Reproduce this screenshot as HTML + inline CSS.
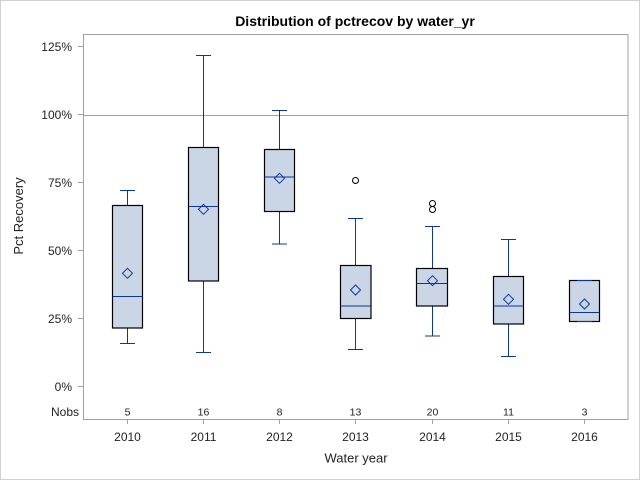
<!DOCTYPE html>
<html><head><meta charset="utf-8"><style>
html,body{margin:0;padding:0;background:#fff;}
svg{display:block;}
text{font-family:"Liberation Sans",Arial,sans-serif;fill:#222;}
</style></head><body>
<svg width="640" height="480" viewBox="0 0 640 480" xmlns="http://www.w3.org/2000/svg">
<rect x="0.5" y="0.5" width="639" height="479" fill="#fff" stroke="#d0d0d0" stroke-width="1"/>
<text x="355" y="26" font-size="14" font-weight="bold" text-anchor="middle" style="fill:#000">Distribution of pctrecov by water_yr</text>

<!-- reference line 100% -->
<line x1="83" y1="115.5" x2="628" y2="115.5" stroke="#a0a0a0" stroke-width="1"/>

<!-- plot frame -->
<rect x="83.5" y="34.5" width="544.5" height="385" fill="none" stroke="#a0a0a0" stroke-width="1"/>

<!-- y ticks -->
<g stroke="#a0a0a0" stroke-width="1">
<line x1="78" y1="46.5" x2="83" y2="46.5"/>
<line x1="78" y1="114.5" x2="83" y2="114.5"/>
<line x1="78" y1="182.5" x2="83" y2="182.5"/>
<line x1="78" y1="250.5" x2="83" y2="250.5"/>
<line x1="78" y1="318.5" x2="83" y2="318.5"/>
<line x1="78" y1="386.5" x2="83" y2="386.5"/>
</g>
<g font-size="12" text-anchor="end">
<text x="72" y="51">125%</text>
<text x="72" y="119">100%</text>
<text x="72" y="187">75%</text>
<text x="72" y="255">50%</text>
<text x="72" y="323">25%</text>
<text x="72" y="391">0%</text>
<text x="79" y="416">Nobs</text>
</g>
<text transform="translate(23,216) rotate(-90)" font-size="13" text-anchor="middle">Pct Recovery</text>

<!-- x ticks -->
<g stroke="#a0a0a0" stroke-width="1">
<line x1="127.5" y1="419" x2="127.5" y2="424"/>
<line x1="203.5" y1="419" x2="203.5" y2="424"/>
<line x1="279.5" y1="419" x2="279.5" y2="424"/>
<line x1="355.5" y1="419" x2="355.5" y2="424"/>
<line x1="432.5" y1="419" x2="432.5" y2="424"/>
<line x1="508.5" y1="419" x2="508.5" y2="424"/>
<line x1="584.5" y1="419" x2="584.5" y2="424"/>
</g>
<g font-size="12" text-anchor="middle">
<text x="127.5" y="441">2010</text>
<text x="203.5" y="441">2011</text>
<text x="279.5" y="441">2012</text>
<text x="355.5" y="441">2013</text>
<text x="432.5" y="441">2014</text>
<text x="508.5" y="441">2015</text>
<text x="584.5" y="441">2016</text>
</g>
<g font-size="10.5" text-anchor="middle">
<text x="127.5" y="415.5">5</text>
<text x="203.5" y="415.5">16</text>
<text x="279.5" y="415.5">8</text>
<text x="355.5" y="415.5">13</text>
<text x="432.5" y="415.5">20</text>
<text x="508.5" y="415.5">11</text>
<text x="584.5" y="415.5">3</text>
</g>
<text x="356" y="462.5" font-size="13" text-anchor="middle">Water year</text>

<!-- boxes -->
<g stroke-width="1" fill="none">
<!-- 2010 -->
<line x1="127.5" y1="190.5" x2="127.5" y2="205.5" stroke="#0a3799"/>
<line x1="127.5" y1="328" x2="127.5" y2="343.5" stroke="#0a3799"/>
<line x1="120" y1="190.5" x2="135" y2="190.5" stroke="#0a3799"/>
<line x1="120" y1="343.5" x2="135" y2="343.5" stroke="#0a3799"/>
<rect x="112.5" y="205.5" width="30" height="122.5" fill="#cad5e5" stroke="#000" stroke-width="1.2"/>
<line x1="113" y1="296.5" x2="142" y2="296.5" stroke="#0a3799"/>
<path d="M127.5 268.3 L132.5 273.3 L127.5 278.3 L122.5 273.3 Z" stroke="#0a3799"/>

<!-- 2011 -->
<line x1="203.5" y1="55.5" x2="203.5" y2="147.5" stroke="#0a3799"/>
<line x1="203.5" y1="281" x2="203.5" y2="352.5" stroke="#0a3799"/>
<line x1="196" y1="55.5" x2="211" y2="55.5" stroke="#0a3799"/>
<line x1="196" y1="352.5" x2="211" y2="352.5" stroke="#0a3799"/>
<rect x="188.5" y="147.5" width="30" height="133.5" fill="#cad5e5" stroke="#000" stroke-width="1.2"/>
<line x1="189" y1="206.5" x2="218" y2="206.5" stroke="#0a3799"/>
<path d="M203.5 204.3 L208.5 209.3 L203.5 214.3 L198.5 209.3 Z" stroke="#0a3799"/>

<!-- 2012 -->
<line x1="279.5" y1="110.5" x2="279.5" y2="149.5" stroke="#0a3799"/>
<line x1="279.5" y1="211.5" x2="279.5" y2="244" stroke="#0a3799"/>
<line x1="272" y1="110.5" x2="287" y2="110.5" stroke="#0a3799"/>
<line x1="272" y1="244" x2="287" y2="244" stroke="#0a3799"/>
<rect x="264.5" y="149.5" width="30" height="62" fill="#cad5e5" stroke="#000" stroke-width="1.2"/>
<line x1="265" y1="177" x2="294" y2="177" stroke="#0a3799"/>
<path d="M279.5 173.3 L284.5 178.3 L279.5 183.3 L274.5 178.3 Z" stroke="#0a3799"/>

<!-- 2013 -->
<line x1="355.5" y1="218.5" x2="355.5" y2="265.5" stroke="#0a3799"/>
<line x1="355.5" y1="318.5" x2="355.5" y2="349.5" stroke="#0a3799"/>
<line x1="348" y1="218.5" x2="363" y2="218.5" stroke="#0a3799"/>
<line x1="348" y1="349.5" x2="363" y2="349.5" stroke="#0a3799"/>
<rect x="340.5" y="265.5" width="30.5" height="53" fill="#cad5e5" stroke="#000" stroke-width="1.2"/>
<line x1="341" y1="306" x2="370.5" y2="306" stroke="#0a3799"/>
<path d="M355.5 285 L360.5 290 L355.5 295 L350.5 290 Z" stroke="#0a3799"/>
<circle cx="355.5" cy="180.5" r="3" stroke="#000"/>

<!-- 2014 -->
<line x1="432.5" y1="226.5" x2="432.5" y2="268.5" stroke="#0a3799"/>
<line x1="432.5" y1="306" x2="432.5" y2="336" stroke="#0a3799"/>
<line x1="425" y1="226.5" x2="440" y2="226.5" stroke="#0a3799"/>
<line x1="425" y1="336" x2="440" y2="336" stroke="#0a3799"/>
<rect x="416.5" y="268.5" width="31" height="37.5" fill="#cad5e5" stroke="#000" stroke-width="1.2"/>
<line x1="417" y1="283.5" x2="447" y2="283.5" stroke="#0a3799"/>
<path d="M432.5 275.7 L437.5 280.7 L432.5 285.7 L427.5 280.7 Z" stroke="#0a3799"/>
<circle cx="432.5" cy="203.5" r="3" stroke="#000"/>
<circle cx="432.5" cy="209.5" r="3" stroke="#000"/>

<!-- 2015 -->
<line x1="508.5" y1="239.5" x2="508.5" y2="276.5" stroke="#0a3799"/>
<line x1="508.5" y1="324" x2="508.5" y2="356.5" stroke="#0a3799"/>
<line x1="501" y1="239.5" x2="516" y2="239.5" stroke="#0a3799"/>
<line x1="501" y1="356.5" x2="516" y2="356.5" stroke="#0a3799"/>
<rect x="493.5" y="276.5" width="30" height="47.5" fill="#cad5e5" stroke="#000" stroke-width="1.2"/>
<line x1="494" y1="306" x2="523" y2="306" stroke="#0a3799"/>
<path d="M508.5 294.3 L513.5 299.3 L508.5 304.3 L503.5 299.3 Z" stroke="#0a3799"/>

<!-- 2016 -->
<rect x="569.5" y="280.5" width="30" height="41" fill="#cad5e5" stroke="#000" stroke-width="1.2"/>
<line x1="577" y1="280.5" x2="592" y2="280.5" stroke="#0a3799"/>
<line x1="577" y1="321.5" x2="592" y2="321.5" stroke="#0a3799"/>
<line x1="570" y1="312.5" x2="599" y2="312.5" stroke="#0a3799"/>
<path d="M584.5 299 L589.5 304 L584.5 309 L579.5 304 Z" stroke="#0a3799"/>
</g>
</svg>
</body></html>
